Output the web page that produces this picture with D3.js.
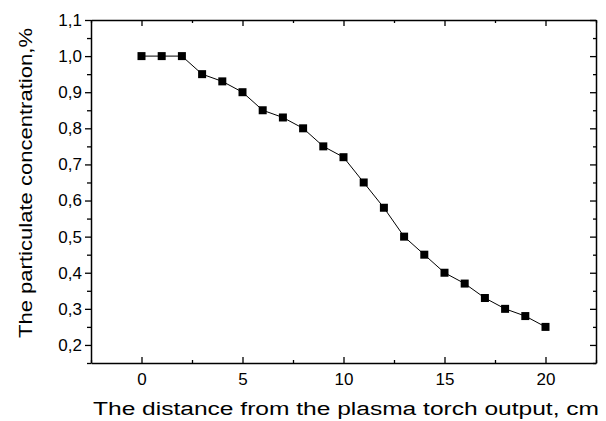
<!DOCTYPE html>
<html>
<head>
<meta charset="utf-8">
<script src="https://cdn.jsdelivr.net/npm/d3@7"></script>
<style>
  body { margin: 0; background: #fff; }
  text { font-family: "Liberation Sans", Arial, sans-serif; fill: #000; }
</style>
</head>
<body>
<svg id="chart" width="606" height="421"></svg>
<script>
var distance = [0, 1, 2, 3, 4, 5, 6, 7, 8, 9, 10, 11, 12, 13, 14, 15, 16, 17, 18, 19, 20];
var concentration = [1.0, 1.0, 1.0, 0.95, 0.93, 0.90, 0.85, 0.83, 0.80, 0.75, 0.72, 0.65, 0.58, 0.50, 0.45, 0.40, 0.37, 0.33, 0.30, 0.28, 0.25];
var xTicks = [0, 5, 10, 15, 20];
var yTicks = [0.2, 0.3, 0.4, 0.5, 0.6, 0.7, 0.8, 0.9, 1.0, 1.1];

var svg = d3.select("#chart");
var pLeft = 91, pRight = 596, pTop = 20, pBottom = 363;

var x = d3.scaleLinear().domain([-2.5, 22.5]).range([pLeft, pRight]);
var y = d3.scaleLinear().domain([0.15, 1.1]).range([pBottom, pTop]);

var fmt = function (d) { return d3.format(".1f")(d).replace(".", ","); };
var xMinor = [-2.5, 2.5, 7.5, 12.5, 17.5, 22.5];
var yMinor = [0.15, 0.25, 0.35, 0.45, 0.55, 0.65, 0.75, 0.85, 0.95, 1.05];

function styleAxis(g) {
    g.select(".domain").attr("stroke", "#000").attr("stroke-width", 1.5);
    g.selectAll(".tick line").attr("stroke", "#000").attr("stroke-width", 1.3);
}

// bottom axis: ticks inward, labels below
var gx = svg.append("g").attr("transform", "translate(0," + pBottom + ")")
    .call(d3.axisBottom(x).tickValues(xTicks).tickSizeInner(-6).tickSizeOuter(0).tickPadding(10).tickFormat(d3.format("d")));
gx.call(styleAxis);
gx.selectAll("text").attr("font-size", 17);
svg.append("g").attr("transform", "translate(0," + pBottom + ")")
    .call(d3.axisBottom(x).tickValues(xMinor).tickSize(-3).tickFormat(""))
    .call(styleAxis).select(".domain").remove();

// top axis: ticks inward, no labels
svg.append("g").attr("transform", "translate(0," + pTop + ")")
    .call(d3.axisTop(x).tickValues(xTicks).tickSizeInner(-6).tickSizeOuter(0).tickFormat(""))
    .call(styleAxis);
svg.append("g").attr("transform", "translate(0," + pTop + ")")
    .call(d3.axisTop(x).tickValues(xMinor).tickSize(-3).tickFormat(""))
    .call(styleAxis).select(".domain").remove();

// left axis: ticks outward, labels
var gy = svg.append("g").attr("transform", "translate(" + pLeft + ",0)")
    .call(d3.axisLeft(y).tickValues(yTicks).tickSizeInner(6).tickSizeOuter(0).tickPadding(3).tickFormat(fmt));
gy.call(styleAxis);
gy.selectAll("text").attr("font-size", 17);
svg.append("g").attr("transform", "translate(" + pLeft + ",0)")
    .call(d3.axisLeft(y).tickValues(yMinor).tickSize(4).tickFormat(""))
    .call(styleAxis).select(".domain").remove();

// right axis: ticks inward
svg.append("g").attr("transform", "translate(" + pRight + ",0)")
    .call(d3.axisRight(y).tickValues(yTicks).tickSizeInner(-6).tickSizeOuter(0).tickFormat(""))
    .call(styleAxis);
svg.append("g").attr("transform", "translate(" + pRight + ",0)")
    .call(d3.axisRight(y).tickValues(yMinor).tickSize(-3).tickFormat(""))
    .call(styleAxis).select(".domain").remove();

// data line and markers
var line = d3.line()
    .x(function (d, i) { return x(distance[i]); })
    .y(function (d) { return y(d); });
svg.append("path").datum(concentration)
    .attr("d", line)
    .attr("fill", "none")
    .attr("stroke", "#000")
    .attr("stroke-width", 1);

svg.append("g").selectAll("rect").data(concentration).enter().append("rect")
    .attr("x", function (d, i) { return x(distance[i]) - 4; })
    .attr("y", function (d) { return y(d) - 4; })
    .attr("width", 8)
    .attr("height", 8)
    .attr("fill", "#000");

// axis titles
svg.append("text")
    .attr("x", 346).attr("y", 415)
    .attr("text-anchor", "middle")
    .attr("font-size", 18)
    .attr("textLength", 506)
    .attr("lengthAdjust", "spacingAndGlyphs")
    .text("The distance from the plasma torch output, cm");

svg.append("text")
    .attr("transform", "translate(32,183) rotate(-90)")
    .attr("text-anchor", "middle")
    .attr("font-size", 18)
    .attr("textLength", 310)
    .attr("lengthAdjust", "spacingAndGlyphs")
    .text("The particulate concentration,%");
</script>
</body>
</html>
